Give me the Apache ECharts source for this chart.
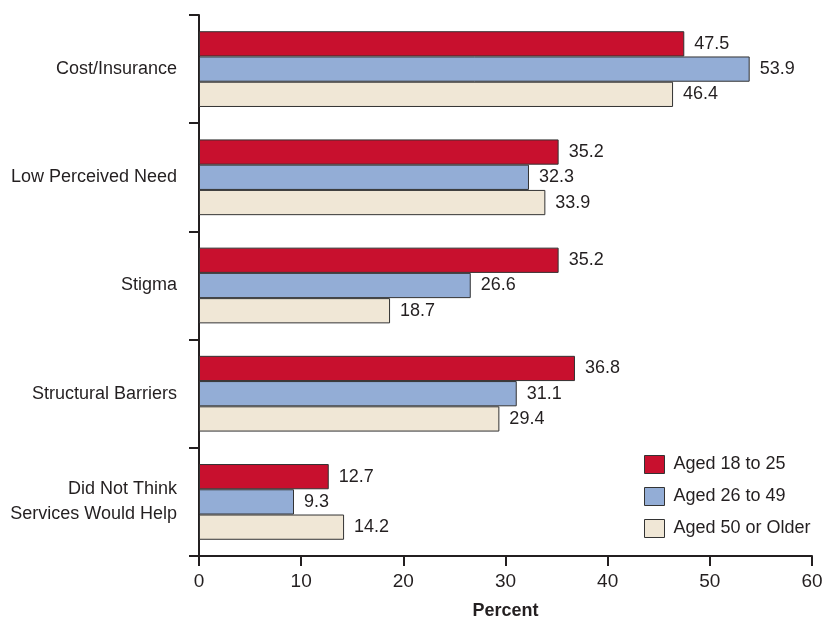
<!DOCTYPE html>
<html>
<head>
<meta charset="utf-8">
<script src="https://cdn.jsdelivr.net/npm/echarts@6/dist/echarts.min.js"></script>
<style>
  html, body { margin: 0; padding: 0; background: #fff; }
  #chart { width: 835px; height: 622px; }
</style>
</head>
<body>
<div id="chart"></div>
<script>
  // reasons for not receiving mental health services, by age group
  var categories = [
    'Cost/Insurance',
    'Low Perceived Need',
    'Stigma',
    'Structural Barriers',
    'Did Not Think\nServices Would Help'
  ]
  var seriesNames = ['Aged 18 to 25', 'Aged 26 to 49', 'Aged 50 or Older']
  var aged18to25 = [47.5, 35.2, 35.2, 36.8, 12.7]
  var aged26to49 = [53.9, 32.3, 26.6, 31.1, 9.3]
  var aged50plus = [46.4, 33.9, 18.7, 29.4, 14.2]
  var xTicks = [0, 10, 20, 30, 40, 50, 60]

  var FONT = '"Liberation Sans", Arial, sans-serif'
  var TEXT = '#231f20'
  var colors = ['#c8102e', '#93add6', '#f0e7d6']

  function makeSeries(name, data, color) {
    return {
      name: name,
      type: 'bar',
      data: data,
      barGap: '0%',
      barCategoryGap: '30%',
      itemStyle: {
        color: color,
        borderColor: '#333',
        borderWidth: 1
      },
      label: {
        show: true,
        position: 'right',
        distance: 10,
        color: TEXT,
        fontFamily: FONT,
        fontSize: 18,
        formatter: function (p) { return p.value.toFixed(1) }
      }
    }
  }

  var chart = echarts.init(document.getElementById('chart'), null, {renderer: 'canvas'})
  chart.setOption({
    animation: false,
    textStyle: {fontFamily: FONT, color: TEXT},
    grid: {
      left: 199,
      right: 23,
      top: 15,
      bottom: 66,
      containLabel: false,
      outerBoundsMode: 'none'
    },
    legend: {
      orient: 'vertical',
      left: 644,
      top: 455,
      padding: 0,
      itemWidth: 20,
      itemHeight: 18,
      itemGap: 13,
      icon: 'rect',
      data: seriesNames,
      textStyle: {fontFamily: FONT, fontSize: 18, color: TEXT, padding: [0, 0, 0, 4]},
      itemStyle: {borderColor: '#333', borderWidth: 1}
    },
    xAxis: {
      type: 'value',
      min: xTicks[0],
      max: xTicks[xTicks.length - 1],
      interval: 10,
      name: 'Percent',
      nameLocation: 'middle',
      nameGap: 46,
      nameTextStyle: {fontFamily: FONT, fontSize: 18, fontWeight: 'bold', color: TEXT},
      splitLine: {show: false},
      axisLine: {show: true, lineStyle: {color: '#231f20', width: 2}},
      axisTick: {show: true, length: 10, lineStyle: {color: '#231f20', width: 2}},
      axisLabel: {fontFamily: FONT, fontSize: 19, color: TEXT, margin: 16}
    },
    yAxis: {
      type: 'category',
      inverse: true,
      data: categories,
      axisLine: {show: true, lineStyle: {color: '#231f20', width: 2}},
      axisTick: {show: true, length: 10, lineStyle: {color: '#231f20', width: 2}},
      axisLabel: {
        fontFamily: FONT,
        fontSize: 18,
        color: TEXT,
        margin: 22,
        align: 'right',
        lineHeight: 25
      }
    },
    series: [
      makeSeries(seriesNames[0], aged18to25, colors[0]),
      makeSeries(seriesNames[1], aged26to49, colors[1]),
      makeSeries(seriesNames[2], aged50plus, colors[2])
    ]
  })
</script>
</body>
</html>
